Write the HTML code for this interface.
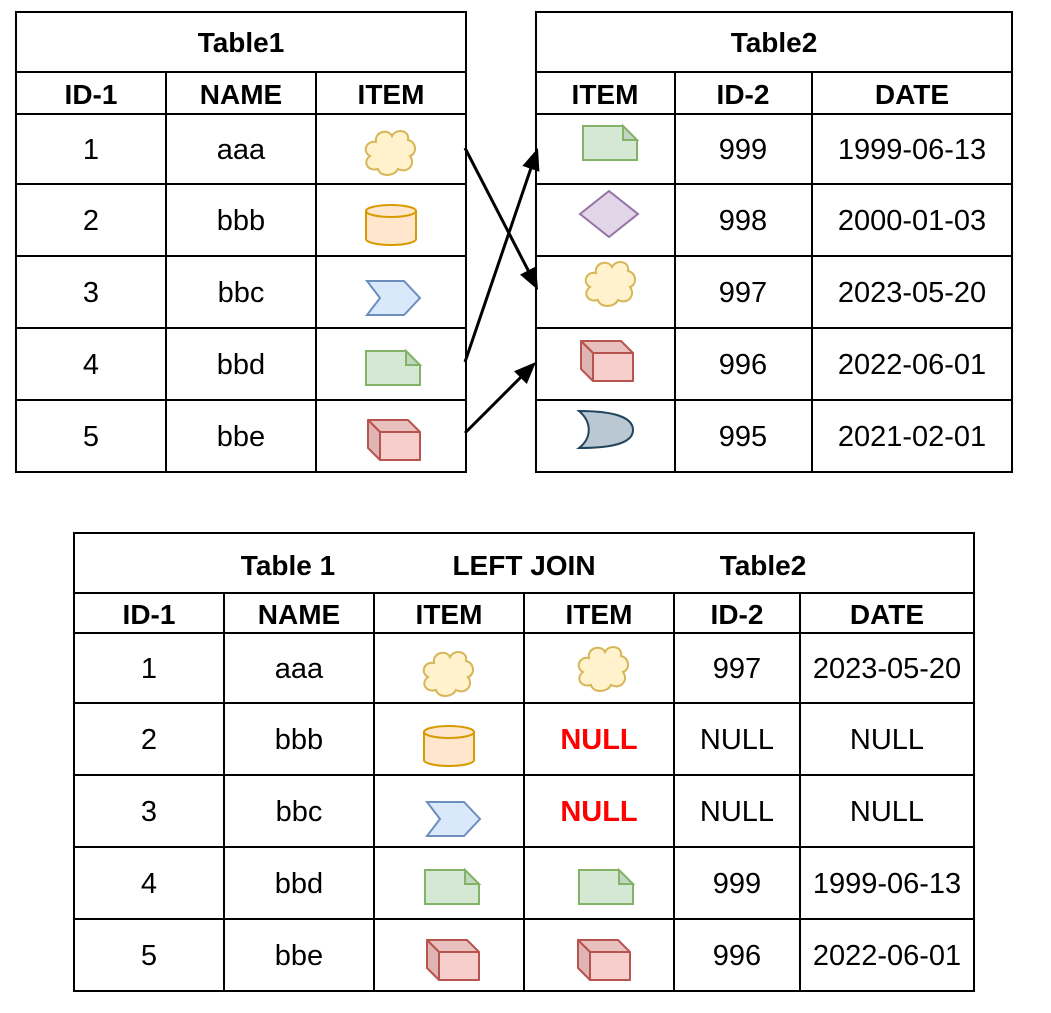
<!DOCTYPE html>
<html><head><meta charset="utf-8"><style>
html,body{margin:0;padding:0;background:#fff;}
svg{display:block;font-family:"Liberation Sans",Arial,sans-serif;}
.t{font-size:29px;text-anchor:middle;fill:#000;}
.b{font-weight:bold;font-size:28px;}
.n{fill:#ff0000;font-weight:bold;}
</style></head><body>
<svg width="1051" height="1013" viewBox="0 0 1051 1013" xmlns="http://www.w3.org/2000/svg">
<defs>
<g id="cloud"><path d="M-14,-10 C-16,-20 -2,-24 2,-16 C6,-24 20,-22 18,-12 C27,-10 27,2 20,4 C26,12 18,22 8,17 C4,25 -10,25 -12,17 C-22,20 -28,10 -20,4 C-28,0 -24,-12 -14,-10 Z" fill="#fff2cc" stroke="#d6b656" stroke-width="2"/></g>
<g id="cyl"><path d="M-25,-14 L-25,14 A25,6 0 0 0 25,14 L25,-14" fill="#ffe6cc" stroke="#d79b00" stroke-width="2"/><ellipse cx="0" cy="-14" rx="25" ry="6" fill="#ffe6cc" stroke="#d79b00" stroke-width="2"/></g>
<g id="chev"><polygon points="-25,-17 12,-17 28,0 12,17 -25,17 -12,0" fill="#dae8fc" stroke="#6c8ebf" stroke-width="2"/></g>
<g id="note"><path d="M-27,-17 L13,-17 L27,-3 L27,17 L-27,17 Z" fill="#d5e8d4" stroke="#82b366" stroke-width="2"/><path d="M13,-17 L13,-3 L27,-3 Z" fill="#c3d6c2" stroke="#82b366" stroke-width="2"/></g>
<g id="cube" stroke="#b85450" stroke-width="2" stroke-linejoin="round"><polygon points="-14,-8 26,-8 26,20 -14,20" fill="#f8cecc"/><polygon points="-26,-20 14,-20 26,-8 -14,-8" fill="#e8c0be"/><polygon points="-26,-20 -14,-8 -14,20 -26,8" fill="#dfb5b3"/></g>
<g id="dia"><polygon points="0,-23 29,0 0,23 -29,0" fill="#e1d5e7" stroke="#9673a6" stroke-width="2"/></g>
<g id="moon"><path d="M-27,-19 C10,-19 27,-12 27,0 C27,12 10,18 -27,18 C-14,8 -14,-8 -27,-19 Z" fill="#bac8d3" stroke="#23445d" stroke-width="2"/></g>
</defs>
<g fill="none" stroke="#000" stroke-width="2">
<rect x="16" y="12" width="450" height="460"/>
<path d="M16,72H466M16,114H466M16,184H466M16,256H466M16,328H466M16,400H466M166,72V472M316,72V472"/>
<rect x="536" y="12" width="476" height="460"/>
<path d="M536,72H1012M536,114H1012M536,184H1012M536,256H1012M536,328H1012M536,400H1012M675,72V472M812,72V472"/>
<rect x="74" y="533" width="900" height="458"/>
<path d="M74,593H974M74,633H974M74,703H974M74,775H974M74,847H974M74,919H974M224,593V991M374,593V991M524,593V991M674,593V991M800,593V991"/>
</g>
<g stroke="#000" stroke-width="3" fill="#000">
<line x1="465" y1="148" x2="529" y2="272"/>
<polygon points="538,290 520,274.6 536,266.4" stroke="none"/>
<line x1="465" y1="362" x2="531" y2="168"/>
<polygon points="538,148 539.4,171.7 522.4,165.9" stroke="none"/>
<line x1="465" y1="433" x2="521" y2="377"/>
<polygon points="536,362 526.8,384 514,371.2" stroke="none"/>
</g>
<text class="t b" x="241" y="52">Table1</text>
<text class="t b" x="91" y="104">ID-1</text><text class="t b" x="241" y="104">NAME</text><text class="t b" x="391" y="104">ITEM</text>
<text class="t" x="91" y="159">1</text><text class="t" x="241" y="159">aaa</text>
<text class="t" x="91" y="230">2</text><text class="t" x="241" y="230">bbb</text>
<text class="t" x="91" y="302">3</text><text class="t" x="241" y="302">bbc</text>
<text class="t" x="91" y="374">4</text><text class="t" x="241" y="374">bbd</text>
<text class="t" x="91" y="446">5</text><text class="t" x="241" y="446">bbe</text>
<use href="#cloud" x="390" y="152"/><use href="#cyl" x="391" y="225"/><use href="#chev" x="392" y="298"/><use href="#note" x="393" y="368"/><use href="#cube" x="394" y="440"/>
<text class="t b" x="774" y="52">Table2</text>
<text class="t b" x="605" y="104">ITEM</text><text class="t b" x="743" y="104">ID-2</text><text class="t b" x="912" y="104">DATE</text>
<text class="t" x="743" y="159">999</text><text class="t" x="912" y="159">1999-06-13</text>
<text class="t" x="743" y="230">998</text><text class="t" x="912" y="230">2000-01-03</text>
<text class="t" x="743" y="302">997</text><text class="t" x="912" y="302">2023-05-20</text>
<text class="t" x="743" y="374">996</text><text class="t" x="912" y="374">2022-06-01</text>
<text class="t" x="743" y="446">995</text><text class="t" x="912" y="446">2021-02-01</text>
<use href="#note" x="610" y="143"/><use href="#dia" x="609" y="214"/><use href="#cloud" x="610" y="283"/><use href="#cube" x="607" y="361"/><use href="#moon" x="606" y="430"/>
<text class="t b" x="288" y="575">Table 1</text><text class="t b" x="524" y="575">LEFT JOIN</text><text class="t b" x="763" y="575">Table2</text>
<text class="t b" x="149" y="624">ID-1</text><text class="t b" x="299" y="624">NAME</text><text class="t b" x="449" y="624">ITEM</text><text class="t b" x="599" y="624">ITEM</text><text class="t b" x="737" y="624">ID-2</text><text class="t b" x="887" y="624">DATE</text>
<text class="t" x="149" y="678">1</text><text class="t" x="299" y="678">aaa</text><text class="t" x="737" y="678">997</text><text class="t" x="887" y="678">2023-05-20</text>
<text class="t" x="149" y="749">2</text><text class="t" x="299" y="749">bbb</text><text class="t n" x="599" y="749">NULL</text><text class="t" x="737" y="749">NULL</text><text class="t" x="887" y="749">NULL</text>
<text class="t" x="149" y="821">3</text><text class="t" x="299" y="821">bbc</text><text class="t n" x="599" y="821">NULL</text><text class="t" x="737" y="821">NULL</text><text class="t" x="887" y="821">NULL</text>
<text class="t" x="149" y="893">4</text><text class="t" x="299" y="893">bbd</text><text class="t" x="737" y="893">999</text><text class="t" x="887" y="893">1999-06-13</text>
<text class="t" x="149" y="965">5</text><text class="t" x="299" y="965">bbe</text><text class="t" x="737" y="965">996</text><text class="t" x="887" y="965">2022-06-01</text>
<use href="#cloud" x="448" y="673"/><use href="#cloud" x="603" y="668"/>
<use href="#cyl" x="449" y="746"/>
<use href="#chev" x="452" y="819"/>
<use href="#note" x="452" y="887"/><use href="#note" x="606" y="887"/>
<use href="#cube" x="453" y="960"/><use href="#cube" x="604" y="960"/>
</svg>
</body></html>
